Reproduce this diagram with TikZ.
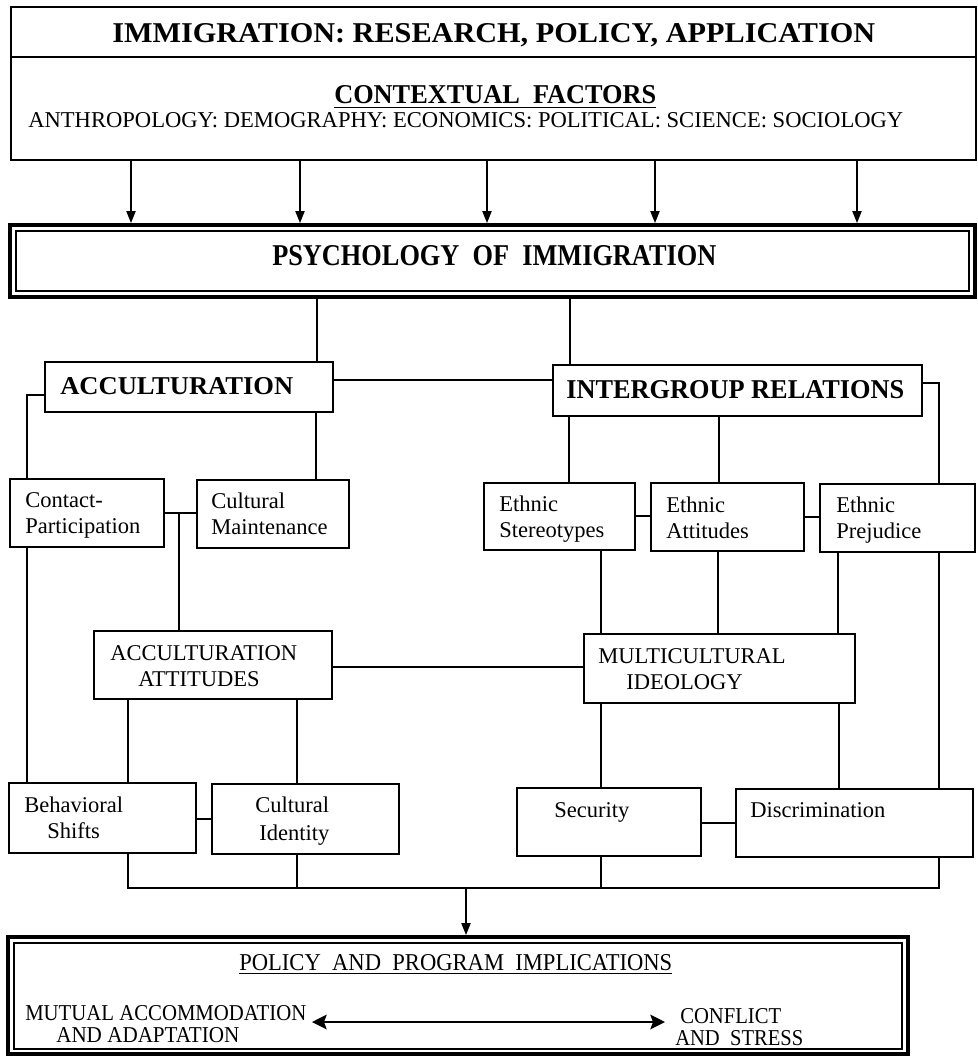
\documentclass[tikz,border=0pt]{standalone}
\usepackage{fontspec}
\setmainfont{Liberation Serif}
\usetikzlibrary{arrows.meta,fit}
\newlength\pxu
\setlength\pxu{0.75pt}
% set a line of text to an exact width and cap height (in pixel units)
\newcommand\fitline[3]{\resizebox{#1\pxu}{#2\pxu}{#3}}

\begin{document}
\begin{tikzpicture}[x=0.75pt,y=-0.75pt,
  box/.style={draw, line width=1.15pt, inner sep=0pt},
  heavybox/.style={draw, line width=3pt, inner sep=0pt},
  thinbox/.style={draw, line width=0.9pt, inner sep=0pt},
  link/.style={line width=0.9pt},
  arr/.style={link, -{Triangle[length=9pt,width=7pt]}},
  dbl/.style={line width=1.3pt, {Stealth[length=11pt,width=11pt,inset=2pt]}-{Stealth[length=11pt,width=11pt,inset=2pt]}},
  fitted/.style={inner sep=0pt, anchor=base west},
  sm/.style={inner sep=0pt, anchor=base west, font=\fontsize{16.9pt}{20pt}\selectfont}
]
\useasboundingbox (0,0) rectangle (978,1057);

% ---------- boxes ----------
\node[box, fit={(11,7) (976,160)}] (top) {};
\node[heavybox, fit={(10,225) (975,297)}] (psych) {};
\node[thinbox, fit={(16,231) (969,291)}] (psychin) {};
\node[box, fit={(45,362) (333,412)}] (accul) {};
\node[box, fit={(553,365) (922,416)}] (inter) {};
\node[box, fit={(10,479) (164,547)}] (contact) {};
\node[box, fit={(197,480) (349,548)}] (cultm) {};
\node[box, fit={(484,483) (635,550)}] (stereo) {};
\node[box, fit={(651,483) (804,551)}] (ethatt) {};
\node[box, fit={(820,484) (975,552)}] (prej) {};
\node[box, fit={(94,631) (332,699)}] (accatt) {};
\node[box, fit={(584,634) (855,703)}] (multi) {};
\node[box, fit={(9,783) (196,853)}] (behav) {};
\node[box, fit={(212,784) (399,854)}] (cultid) {};
\node[box, fit={(517,788) (701,856)}] (sec) {};
\node[box, fit={(736,789) (973,857)}] (disc) {};
\node[heavybox, fit={(8,937) (908,1054)}] (policy) {};
\node[thinbox, fit={(14,943) (902,1049)}] (policyin) {};

% divider inside the top box
\draw[line width=1.15pt] (top.west |- 0,57) -- (top.east |- 0,57);

% ---------- texts ----------
\node[fitted] (ttl) at (112,42) {\fitline{763}{19}{\bfseries IMMIGRATION: RESEARCH, POLICY, APPLICATION}};
\node[fitted] (ctx) at (334,103) {\fitline{322}{18}{\bfseries\underline{CONTEXTUAL~~FACTORS}}};
\node[fitted] (fields) at (28,127) {\fitline{875}{15}{ANTHROPOLOGY: DEMOGRAPHY: ECONOMICS: POLITICAL: SCIENCE: SOCIOLOGY}};
\node[fitted] (psyt) at (272,265) {\fitline{444}{20}{\bfseries PSYCHOLOGY~~OF~~IMMIGRATION}};
\node[fitted] (acct) at (60,394) {\fitline{233}{17}{\bfseries ACCULTURATION}};
\node[fitted] (intt) at (566,398) {\fitline{338}{18}{\bfseries INTERGROUP RELATIONS}};

\node[sm] (t1a) at (25,507) {Contact-};
\node[sm] (t1b) at (25,533) {Participation};
\node[sm] (t2a) at (211,508) {Cultural};
\node[sm] (t2b) at (211,534) {Maintenance};
\node[sm] (t3a) at (499,511) {Ethnic};
\node[sm] (t3b) at (499,537) {Stereotypes};
\node[sm] (t4a) at (666,512) {Ethnic};
\node[sm] (t4b) at (666,538) {Attitudes};
\node[sm] (t5a) at (836,512) {Ethnic};
\node[sm] (t5b) at (836,538) {Prejudice};
\node[sm] (t6a) at (110,660) {ACCULTURATION};
\node[sm] (t6b) at (138,686) {ATTITUDES};
\node[sm] (t7a) at (598,663) {MULTICULTURAL};
\node[sm] (t7b) at (626,689) {IDEOLOGY};
\node[sm] (t8a) at (24,812) {Behavioral};
\node[sm] (t8b) at (47,838) {Shifts};
\node[sm] (t9a) at (255,812) {Cultural};
\node[sm] (t9b) at (259,840) {Identity};
\node[sm] (t10) at (554,817) {Security};
\node[sm] (t11) at (750,817) {Discrimination};

\node[fitted] (polt) at (239,970) {\fitline{433}{16}{\underline{POLICY~~AND~~PROGRAM~~IMPLICATIONS}}};
\node[fitted] (mut1) at (25,1020) {\fitline{281}{15}{MUTUAL ACCOMMODATION}};
\node[fitted] (mut2) at (56,1042) {\fitline{183}{15}{AND ADAPTATION}};
\node[fitted] (con1) at (680,1023) {\fitline{101}{15}{CONFLICT}};
\node[fitted] (con2) at (675,1045) {\fitline{128}{15}{AND~~STRESS}};

% ---------- connectors ----------
\foreach \xx in {131,300,487,655,857}
  \draw[arr] (\xx,0 |- top.south) -- (\xx,0 |- psych.north);

\draw[link] (317,0 |- psych.south) -- (317,0 |- accul.north);
\draw[link] (570,0 |- psych.south) -- (570,0 |- inter.north);
\draw[link] (accul.east |- 0,380) -- (inter.west |- 0,380);

% acculturation side
\draw[link] (accul.west |- 0,395) -| (27,0 |- contact.north);
\draw[link] (27,0 |- contact.south) -- (27,0 |- behav.north);
\draw[link] (316,0 |- accul.south) -- (316,0 |- cultm.north);
\draw[link] (contact.east |- 0,513) -- (cultm.west |- 0,513);
\coordinate (cpj) at (179,513);
\draw[link] (cpj) -- (cpj |- accatt.north);
\draw[link] (accatt.east |- 0,667) -- (multi.west |- 0,667);
\draw[link] (128,0 |- accatt.south) -- (128,0 |- behav.north);
\draw[link] (297,0 |- accatt.south) -- (297,0 |- cultid.north);
\draw[link] (behav.east |- 0,819) -- (cultid.west |- 0,819);

% intergroup side
\draw[link] (569,0 |- inter.south) -- (569,0 |- stereo.north);
\draw[link] (719,0 |- inter.south) -- (719,0 |- ethatt.north);
\draw[link] (inter.east |- 0,383) -| (939,0 |- prej.north);
\draw[link] (939,0 |- prej.south) -- (939,0 |- disc.north);
\draw[link] (stereo.east |- 0,516) -- (ethatt.west |- 0,516);
\draw[link] (ethatt.east |- 0,517) -- (prej.west |- 0,517);
\draw[link] (601,0 |- stereo.south) -- (601,0 |- multi.north);
\draw[link] (718,0 |- ethatt.south) -- (718,0 |- multi.north);
\draw[link] (838,0 |- prej.south) -- (838,0 |- multi.north);
\draw[link] (601,0 |- multi.south) -- (601,0 |- sec.north);
\draw[link] (839,0 |- multi.south) -- (839,0 |- disc.north);
\draw[link] (sec.east |- 0,823) -- (disc.west |- 0,823);

% collecting line into the policy box
\coordinate (bus) at (466,888);
\draw[link] (128,0 |- behav.south) |- (bus) -| (939,0 |- disc.south);
\draw[link] (297,0 |- cultid.south) -- (297,0 |- bus);
\draw[link] (601,0 |- sec.south) -- (601,0 |- bus);
\draw[arr] (bus) -- (bus |- policy.north);

% continuum between the two outcomes
\coordinate (lend) at (312,1022);
\coordinate (rend) at (665,1022);
\draw[dbl] (lend) -- (rend);
\end{tikzpicture}
\end{document}
